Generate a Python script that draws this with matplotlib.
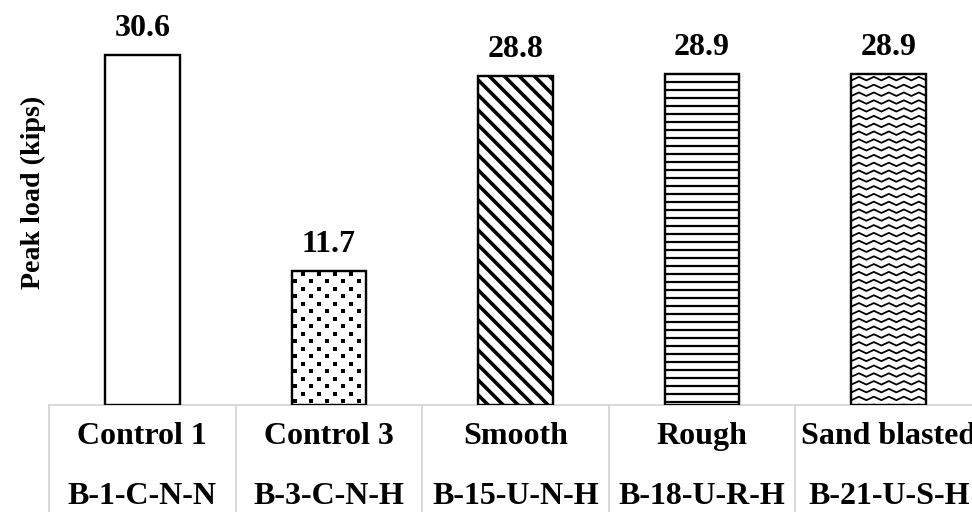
import numpy as np
import matplotlib
matplotlib.use("Agg")
import matplotlib.pyplot as plt
import matplotlib.transforms as mtransforms

# Data #
names = ["Control 1", "Control 3", "Smooth", "Rough", "Sand blasted"]
specimens = ["B-1-C-N-N", "B-3-C-N-H", "B-15-U-N-H", "B-18-U-R-H", "B-21-U-S-H"]
peak_load = [30.6, 11.7, 28.8, 28.9, 28.9]
fills = ["none", "dots", "diag", "horiz", "wave"]
# -------- #

plt.rcParams["font.family"] = ["Liberation Serif", "DejaVu Serif"]
plt.rcParams["font.weight"] = "bold"

fig = plt.figure(figsize=(6.75, 512 / 144), dpi=144)
ax = fig.add_axes([49 / 972, 107 / 512, 933 / 972, 405 / 512])
ax.set_xlim(0, 5)
ax.set_ylim(0, 35.4)
ax.autoscale(False)

x = np.arange(len(peak_load)) + 0.5
bars = ax.bar(x, peak_load, width=0.4, color="white", edgecolor="black", linewidth=1.2, zorder=3)

# pattern fills, drawn in pixel space and clipped to each bar
pix = mtransforms.IdentityTransform()
for b, kind in zip(bars, fills):
    (l, bot), (r, t) = ax.transData.transform([(b.get_x(), 0), (b.get_x() + b.get_width(), b.get_height())])
    arts = []
    if kind == "dots":
        px, py = [], []
        for i, yy in enumerate(np.arange(bot + 4, t, 7.5)):
            xs = np.arange(l + 3 + (i % 2) * 8, r, 16)
            px += list(xs); py += [yy] * len(xs)
        arts.append(ax.scatter(px, py, s=2.6, marker="s", color="black", lw=0, transform=pix, zorder=4))
    elif kind == "diag":
        h = t - bot
        for x0 in np.arange(l - h, r + 15, 15):
            arts += ax.plot([x0, x0 + h + 20], [t + 10, bot - 10], color="black", lw=1.8,
                            transform=pix, zorder=4)
    elif kind == "horiz":
        for yy in np.arange(t - 8, bot, -8):
            arts += ax.plot([l, r], [yy, yy], color="black", lw=1.1, transform=pix, zorder=4)
    elif kind == "wave":
        xs = np.arange(l - 15, r + 15, 7.5)
        amp = np.where(np.arange(len(xs)) % 2 == 0, 0.0, 3.5)
        for yy in np.arange(t - 6, bot - 8, -7.8):
            arts += ax.plot(xs, yy + amp, color="black", lw=0.9, transform=pix, zorder=4)
    for a in arts:
        a.set_clip_path(b)

for xi, v in zip(x, peak_load):
    ax.annotate(f"{v:.1f}", (xi, v), xytext=(0, 6), textcoords="offset points",
                ha="center", va="bottom", fontsize=16, fontweight="bold")

ax.set_xticks([])
ax.set_yticks([])
for s in ["top", "right", "left"]:
    ax.spines[s].set_visible(False)
ax.spines["bottom"].set_color("#d9d9d9")
ax.spines["bottom"].set_linewidth(1.0)

# table-like category axis
trans = mtransforms.blended_transform_factory(ax.transData, ax.transAxes)
ax.vlines(np.arange(len(peak_load) + 1), -0.3, 0, transform=trans, colors="#d9d9d9",
          lw=1.0, clip_on=False)
for xi, n, s in zip(x, names, specimens):
    ax.text(xi, -0.079, n, transform=trans, ha="center", va="center", fontsize=16, fontweight="bold")
    ax.text(xi, -0.227, s, transform=trans, ha="center", va="center", fontsize=16, fontweight="bold")

fig.text(33 / 972, 1 - 192 / 512, "Peak load (kips)", rotation=90, ha="center", va="center",
         fontsize=14, fontweight="bold")

fig.savefig("out.png", dpi=144)
